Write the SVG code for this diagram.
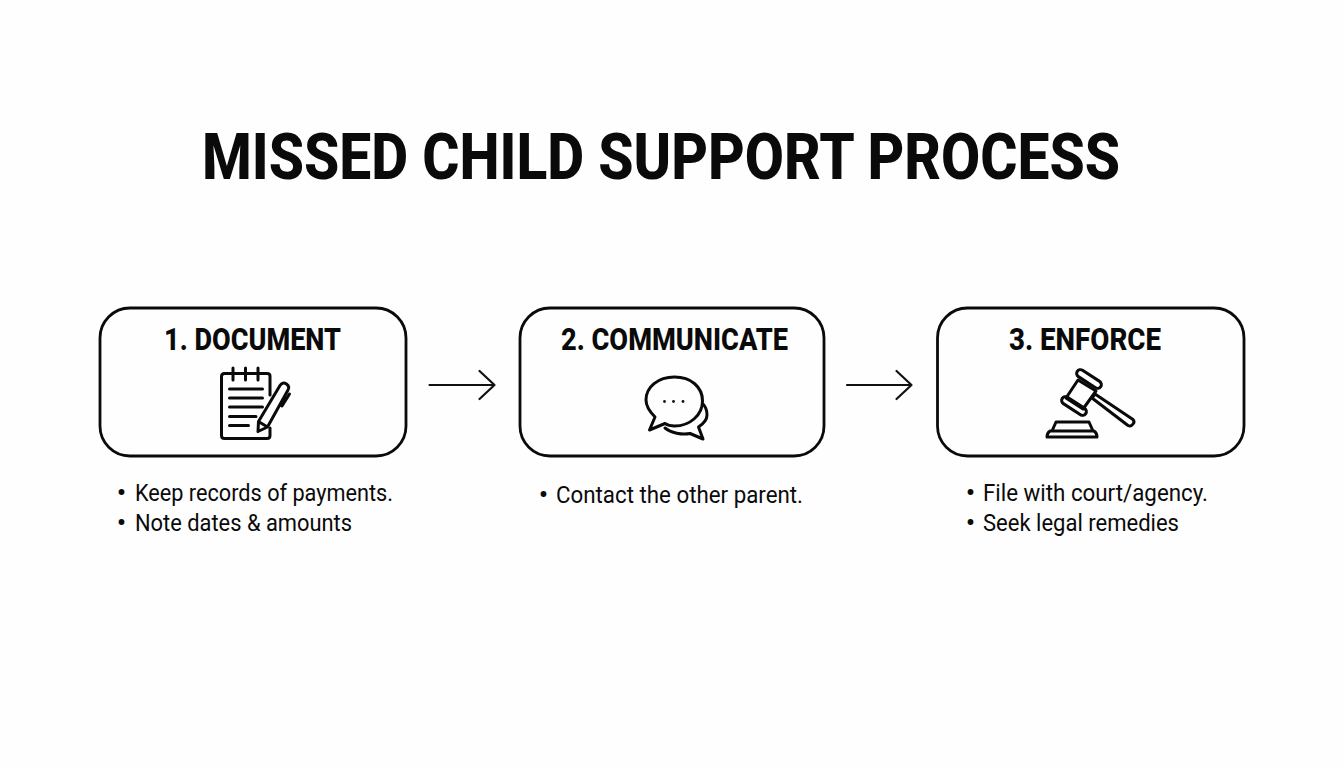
<svg xmlns="http://www.w3.org/2000/svg" width="1344" height="768" viewBox="0 0 1344 768">
<style>
.t{font-family:"Roboto","Liberation Sans",sans-serif;fill:#0a0a0a}
.title{font-weight:800;font-size:65px}
.head{font-weight:800;font-size:31px}
.body{font-weight:400;font-size:24px}
.bul{font-weight:800;font-size:24px}
.box{fill:#fefefe;stroke:#0a0a0a;stroke-width:2.8}
.ic{fill:none;stroke:#0a0a0a;stroke-width:3;stroke-linecap:round;stroke-linejoin:round}
.ln{fill:none;stroke:#111;stroke-width:2.2;stroke-linecap:round;stroke-linejoin:round}
</style>
<rect width="1344" height="768" fill="#fefefe"/>
<text id="title" class="t title" x="202" y="179" textLength="918" lengthAdjust="spacingAndGlyphs">MISSED CHILD SUPPORT PROCESS</text>
<g id="connectors">
<path class="ln" d="M429.500 385H494.500M479.500 371L494.500 385L479.500 399"/>
<path class="ln" d="M847 385H911.500M896.500 371L911.500 385L896.500 399"/>
</g>
<g id="node-document">
<rect class="box" x="100" y="308" width="306" height="148" rx="30"/>
<text class="t head" x="164" y="350" textLength="177" lengthAdjust="spacingAndGlyphs">1. DOCUMENT</text>
<g class="ic">
<path d="M270 395V376Q270 373.500 267 373.500H224.500Q221.500 373.500 221.500 376.500V435.500Q221.500 438.500 224.500 438.500H267Q270 438.500 270 435.500V428"/>
<path d="M233 368V380M245.500 368V380M258 368V380"/>
<path d="M229.500 389H262.500M229.500 398H262.500M229.500 407H262.500M229.500 416.500H256M229.500 425.500H248.500"/>
<path d="M258 431.500L258.500 421.500L280 385.500Q282.500 381.500 286.500 384Q290 386.500 288 390L267.500 427ZM258.500 421.500L267.500 427M289.500 394L282 406"/>
</g>
<text class="t bul" x="117" y="501">•</text>
<text class="t body" x="135" y="501" textLength="258" lengthAdjust="spacingAndGlyphs">Keep records of payments.</text>
<text class="t bul" x="117" y="531">•</text>
<text class="t body" x="135" y="531" textLength="217" lengthAdjust="spacingAndGlyphs">Note dates &amp; amounts</text>
</g>
<g id="node-communicate">
<rect class="box" x="520" y="308" width="304" height="148" rx="30"/>
<text class="t head" x="561" y="350" textLength="227" lengthAdjust="spacingAndGlyphs">2. COMMUNICATE</text>
<g class="ic">
<path d="M655 417C649 411 646 406 646 400C646 387 658 377 674.500 377C691 377 702.500 387 702.500 401C702.500 415 690 426 674.500 426C671 426 668 425.500 665 423.500L649.500 430Z"/>
<path d="M703 404C706 407 707 411 707 415C707 420 703 424 698.500 427L703 439L690 433.500C682 435 671 433 665 428"/>
</g>
<g fill="#111"><circle cx="664.500" cy="401.500" r="1.400"/><circle cx="673.500" cy="401.500" r="1.400"/><circle cx="683" cy="401.500" r="1.400"/></g>
<text class="t bul" x="539" y="503">•</text>
<text class="t body" x="556" y="503" textLength="247" lengthAdjust="spacingAndGlyphs">Contact the other parent.</text>
</g>
<g id="node-enforce">
<rect class="box" x="937.500" y="308" width="306.500" height="148" rx="30"/>
<text class="t head" x="1009" y="350" textLength="152" lengthAdjust="spacingAndGlyphs">3. ENFORCE</text>
<g class="ic">
<path d="M1078 380L1096 391L1083 409L1066 398Z"/>
<rect x="-14" y="-3.800" width="28" height="7.600" rx="3.800" transform="translate(1089 379) rotate(33)"/>
<rect x="-14" y="-3.800" width="28" height="7.600" rx="3.800" transform="translate(1074 406) rotate(33)"/>
<path d="M1092 398L1095 394L1133 419.500Q1135 422 1133 424Q1131 427 1128 425.500Z"/>
<path d="M1052 431L1056 422H1089L1093 431M1050 431H1094Q1097 433 1097 437H1047Q1047 433 1050 431Z"/>
</g>
<text class="t bul" x="966" y="501">•</text>
<text class="t body" x="983" y="501" textLength="225" lengthAdjust="spacingAndGlyphs">File with court/agency.</text>
<text class="t bul" x="966" y="531">•</text>
<text class="t body" x="983" y="531" textLength="196" lengthAdjust="spacingAndGlyphs">Seek legal remedies</text>
</g>
</svg>
